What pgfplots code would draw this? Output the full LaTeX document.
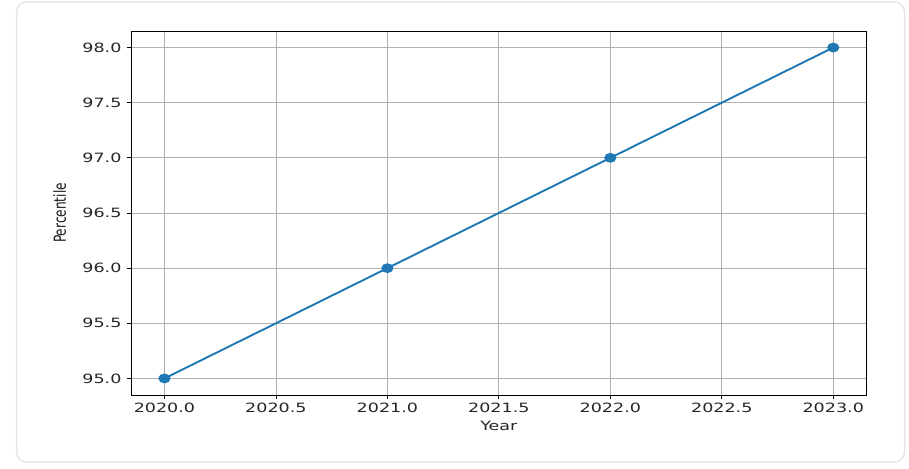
\documentclass[border=0pt]{standalone}
\usepackage{fontspec}
\setmainfont{DejaVu Sans}[FakeStretch=1.37]
\newfontfamily\ylabfont{DejaVu Sans}[FakeStretch=0.73]
\usepackage{pgfplots}
\pgfplotsset{compat=1.18}
\definecolor{mplblue}{HTML}{1F77B4}
\definecolor{gridgray}{HTML}{B0B0B0}
\definecolor{boxgray}{HTML}{E6E6E6}

\begin{document}
\begin{tikzpicture}
\path (0pt,0pt) rectangle (909pt,468pt);
\draw[boxgray, line width=1.5pt, rounded corners=10pt] (16.5pt,6pt) rectangle (904.5pt,466pt);
\begin{axis}[
    at={(131pt,73pt)}, anchor=south west, scale only axis,
    width=735.7pt, height=364pt,
    xmin=2019.85, xmax=2023.15,
    ymin=94.85, ymax=98.15,
    xtick={2020,2020.5,2021,2021.5,2022,2022.5,2023},
    ytick={95,95.5,96,96.5,97,97.5,98},
    grid=major,
    grid style={gridgray, line width=0.8pt},
    axis line style={black, line width=0.8pt},
    tick pos=left,
    tick align=outside,
    major tick length=4pt,
    every tick/.style={black, line width=0.8pt},
    /pgf/number format/assume math mode=true,
    /pgf/number format/.cd, fixed, fixed zerofill, precision=1, 1000 sep={},
    /pgfplots/.cd,
    tick label style={font=\fontsize{12.8}{15}\selectfont, text=black!85},
    yticklabel style={xshift=-2pt},
    xlabel=Year,
    xlabel style={font=\fontsize{12.8}{15}\selectfont, text=black!85,
        at={(axis description cs:0.5,-0.085)}, anchor=center},
    ylabel=Percentile,
    ylabel style={font=\ylabfont\fontsize{16.6}{18}\selectfont, text=black!90,
        at={(axis description cs:-0.097,0.5)}, anchor=center},
]
\addplot[mplblue, line width=1.9pt, mark=*, mark size=3.9pt,
    mark options={fill=mplblue, draw=mplblue, xscale=1.3}]
coordinates {
    (2020, 95)(2021, 96)(2022, 97)(2023, 98)
};
\end{axis}
\end{tikzpicture}
\end{document}
